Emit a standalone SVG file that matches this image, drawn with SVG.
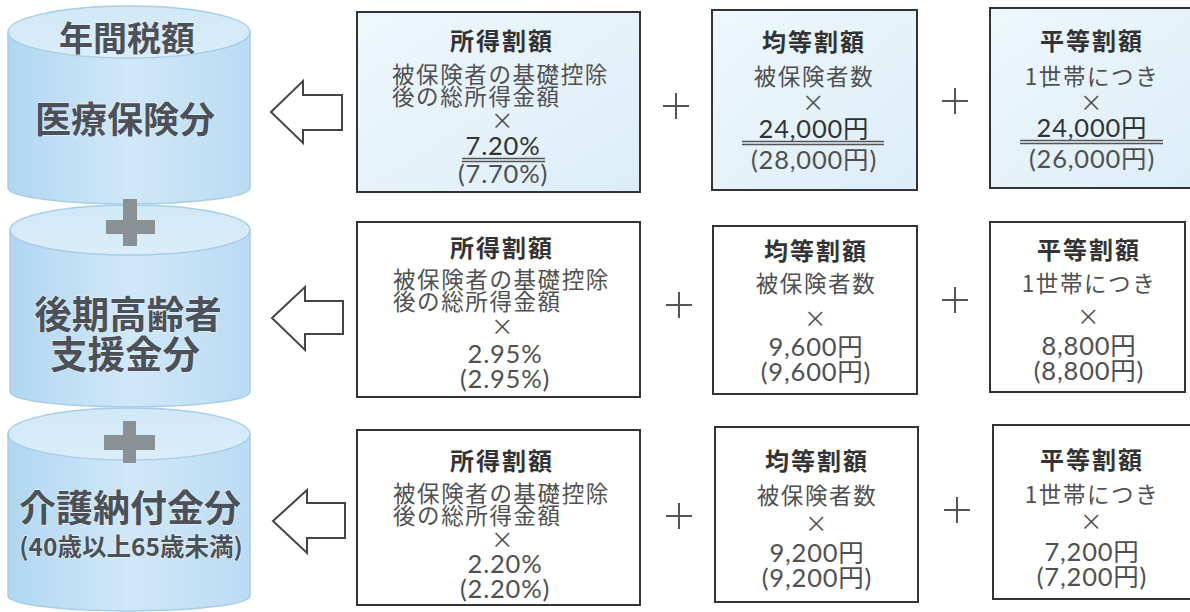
<svg xmlns="http://www.w3.org/2000/svg" width="1190" height="612" viewBox="0 0 1190 612">
<defs>
<linearGradient id="body" x1="0" y1="0" x2="1" y2="0">
<stop offset="0" stop-color="#b1d6f1"/>
<stop offset="0.5" stop-color="#d0e8f8"/>
<stop offset="1" stop-color="#bbdbf2"/>
</linearGradient>
<linearGradient id="lid" x1="0" y1="0" x2="0" y2="1">
<stop offset="0" stop-color="#d0e8f8"/>
<stop offset="1" stop-color="#dbedf9"/>
</linearGradient>
<linearGradient id="boxfill" x1="0" y1="0" x2="1" y2="1">
<stop offset="0" stop-color="#eef7fc"/>
<stop offset="1" stop-color="#dcedf8"/>
</linearGradient>
</defs>
<style>
.cyl{fill:url(#body);stroke:#a6cdea;stroke-width:1.5}
.lid{fill:url(#lid);stroke:#a6cdea;stroke-width:1.5}
.cplus{fill:#8b9095}
.ct{font-family:"Noto Sans CJK JP","Noto Sans",sans-serif;font-weight:bold;fill:#4b5156;text-anchor:middle;stroke:#e8f3fb;stroke-width:1.2;paint-order:stroke}
.box{fill:#fff;stroke:#333;stroke-width:2}
.box.blue{fill:url(#boxfill)}
.bx{font-family:"Noto Sans CJK JP","Noto Sans",sans-serif;font-size:22.5px;letter-spacing:1.6px;fill:#505050;text-anchor:middle}
.tt{font-weight:bold;font-size:24px;letter-spacing:2px;fill:#333}
.l{text-anchor:start}
.num{font-family:Lato,"Noto Sans CJK JP",sans-serif;font-size:25.5px;letter-spacing:0.8px}
.numb{fill:#333}
.ul{stroke:#555;stroke-width:1.3;fill:none}
.arrow{fill:#fff;stroke:#444;stroke-width:2;stroke-linejoin:miter}
.op{stroke:#555;stroke-width:2;fill:none}
</style>

<g id="cylinder-iryo">
<path class="cyl" d="M8,32 L8,188 A121,16 0 0 0 250,188 L250,32 Z"/>
<ellipse class="lid" cx="129" cy="32" rx="121" ry="26"/>
<text class="ct" x="127" y="51" font-size="34">年間税額</text>
<text class="ct" x="125" y="133" font-size="36">医療保険分</text>
</g>

<g id="cylinder-kouki">
<path class="cyl" d="M10,230 L10,392 A120,15 0 0 0 250,392 L250,230 Z"/>
<ellipse class="lid" cx="130" cy="230" rx="120" ry="25"/>
<text class="ct" font-size="37.5"><tspan x="128" y="328">後期高齢者</tspan><tspan x="125" y="368">支援金分</tspan></text>
</g>

<g id="cylinder-kaigo">
<path class="cyl" d="M8,434 L8,596 A121,15 0 0 0 250,596 L250,434 Z"/>
<ellipse class="lid" cx="129" cy="434" rx="121" ry="26"/>
<text class="ct" font-size="37"><tspan x="130" y="522">介護納付金分</tspan><tspan x="131" y="556" font-size="24.5">(40歳以上65歳未満)</tspan></text>
</g>

<g id="plus-cyl-1">
<rect class="cplus" x="123" y="199" width="14" height="47"/>
<rect class="cplus" x="106" y="220" width="49" height="14"/>
</g>
<g id="plus-cyl-2">
<rect class="cplus" x="123" y="421" width="13" height="42"/>
<rect class="cplus" x="104" y="435" width="51" height="15"/>
</g>

<g id="connectors">
<path class="arrow" d="M271,112 L303,81 L303,95 L342,95 L342,130 L303,130 L303,143 Z"/>
<path class="arrow" d="M272,318 L305,287 L305,301 L343,301 L343,334 L305,334 L305,350 Z"/>
<path class="arrow" d="M273,521 L307,490 L307,503 L345,503 L345,538 L307,538 L307,553 Z"/>
<path class="op" d="M663,106 H689 M676,93 V119"/>
<path class="op" d="M942,101 H968 M955,88 V114"/>
<path class="op" d="M666,305 H692 M679,292 V318"/>
<path class="op" d="M942,300 H968 M955,287 V313"/>
<path class="op" d="M666,516 H692 M679,503 V529"/>
<path class="op" d="M944,510 H970 M957,497 V523"/>
</g>

<g id="r1-shotoku">
<rect class="box blue" x="357" y="12" width="283" height="180"/>
<path class="ul" d="M462,158.5 H545 M462,161.5 H545"/>
<text class="bx"><tspan class="tt" x="502" y="50">所得割額</tspan><tspan class="l" x="392" y="83">被保険者の基礎控除</tspan><tspan class="l" x="392" y="105">後の総所得金額</tspan><tspan x="503" y="129">×</tspan><tspan class="num numb" x="503" y="155">7.20%</tspan><tspan class="num" x="503" y="183">(7.70%)</tspan></text>
</g>

<g id="r1-kintou">
<rect class="box blue" x="712" y="10" width="205" height="180"/>
<path class="ul" d="M742,141.5 H884 M742,144.5 H884"/>
<text class="bx"><tspan class="tt" x="814" y="51">均等割額</tspan><tspan x="814" y="85">被保険者数</tspan><tspan x="814" y="111">×</tspan><tspan class="num numb" x="814" y="138">24,000円</tspan><tspan class="num" x="814" y="169">(28,000円)</tspan></text>
</g>

<g id="r1-byoudou">
<rect class="box blue" x="990" y="8" width="204" height="180"/>
<path class="ul" d="M1020,140.5 H1163 M1020,143.5 H1163"/>
<text class="bx"><tspan class="tt" x="1092" y="50">平等割額</tspan><tspan x="1092" y="85">1世帯につき</tspan><tspan x="1092" y="111">×</tspan><tspan class="num numb" x="1092" y="137">24,000円</tspan><tspan class="num" x="1092" y="168">(26,000円)</tspan></text>
</g>

<g id="r2-shotoku">
<rect class="box" x="357" y="222" width="283" height="175"/>
<text class="bx"><tspan class="tt" x="502" y="257">所得割額</tspan><tspan class="l" x="393" y="288">被保険者の基礎控除</tspan><tspan class="l" x="393" y="310">後の総所得金額</tspan><tspan x="503" y="335">×</tspan><tspan class="num" x="505" y="363">2.95%</tspan><tspan class="num" x="505" y="388">(2.95%)</tspan></text>
</g>

<g id="r2-kintou">
<rect class="box" x="713" y="226" width="204" height="168"/>
<text class="bx"><tspan class="tt" x="816" y="260">均等割額</tspan><tspan x="816" y="292">被保険者数</tspan><tspan x="816" y="327">×</tspan><tspan class="num" x="816" y="356">9,600円</tspan><tspan class="num" x="816" y="381">(9,600円)</tspan></text>
</g>

<g id="r2-byoudou">
<rect class="box" x="990" y="222" width="195" height="170"/>
<text class="bx"><tspan class="tt" x="1089" y="259">平等割額</tspan><tspan x="1089" y="292">1世帯につき</tspan><tspan x="1089" y="325">×</tspan><tspan class="num" x="1089" y="355">8,800円</tspan><tspan class="num" x="1089" y="380">(8,800円)</tspan></text>
</g>

<g id="r3-shotoku">
<rect class="box" x="357" y="430" width="283" height="175"/>
<text class="bx"><tspan class="tt" x="502" y="470">所得割額</tspan><tspan class="l" x="393" y="502">被保険者の基礎控除</tspan><tspan class="l" x="393" y="524">後の総所得金額</tspan><tspan x="503" y="548">×</tspan><tspan class="num" x="505" y="573">2.20%</tspan><tspan class="num" x="505" y="598">(2.20%)</tspan></text>
</g>

<g id="r3-kintou">
<rect class="box" x="715" y="427" width="203" height="175"/>
<text class="bx"><tspan class="tt" x="817" y="470">均等割額</tspan><tspan x="817" y="504">被保険者数</tspan><tspan x="817" y="532">×</tspan><tspan class="num" x="817" y="562">9,200円</tspan><tspan class="num" x="817" y="587">(9,200円)</tspan></text>
</g>

<g id="r3-byoudou">
<rect class="box" x="993" y="425" width="199" height="174"/>
<text class="bx"><tspan class="tt" x="1092" y="469">平等割額</tspan><tspan x="1092" y="503">1世帯につき</tspan><tspan x="1092" y="530">×</tspan><tspan class="num" x="1092" y="561">7,200円</tspan><tspan class="num" x="1092" y="586">(7,200円)</tspan></text>
</g>
</svg>
